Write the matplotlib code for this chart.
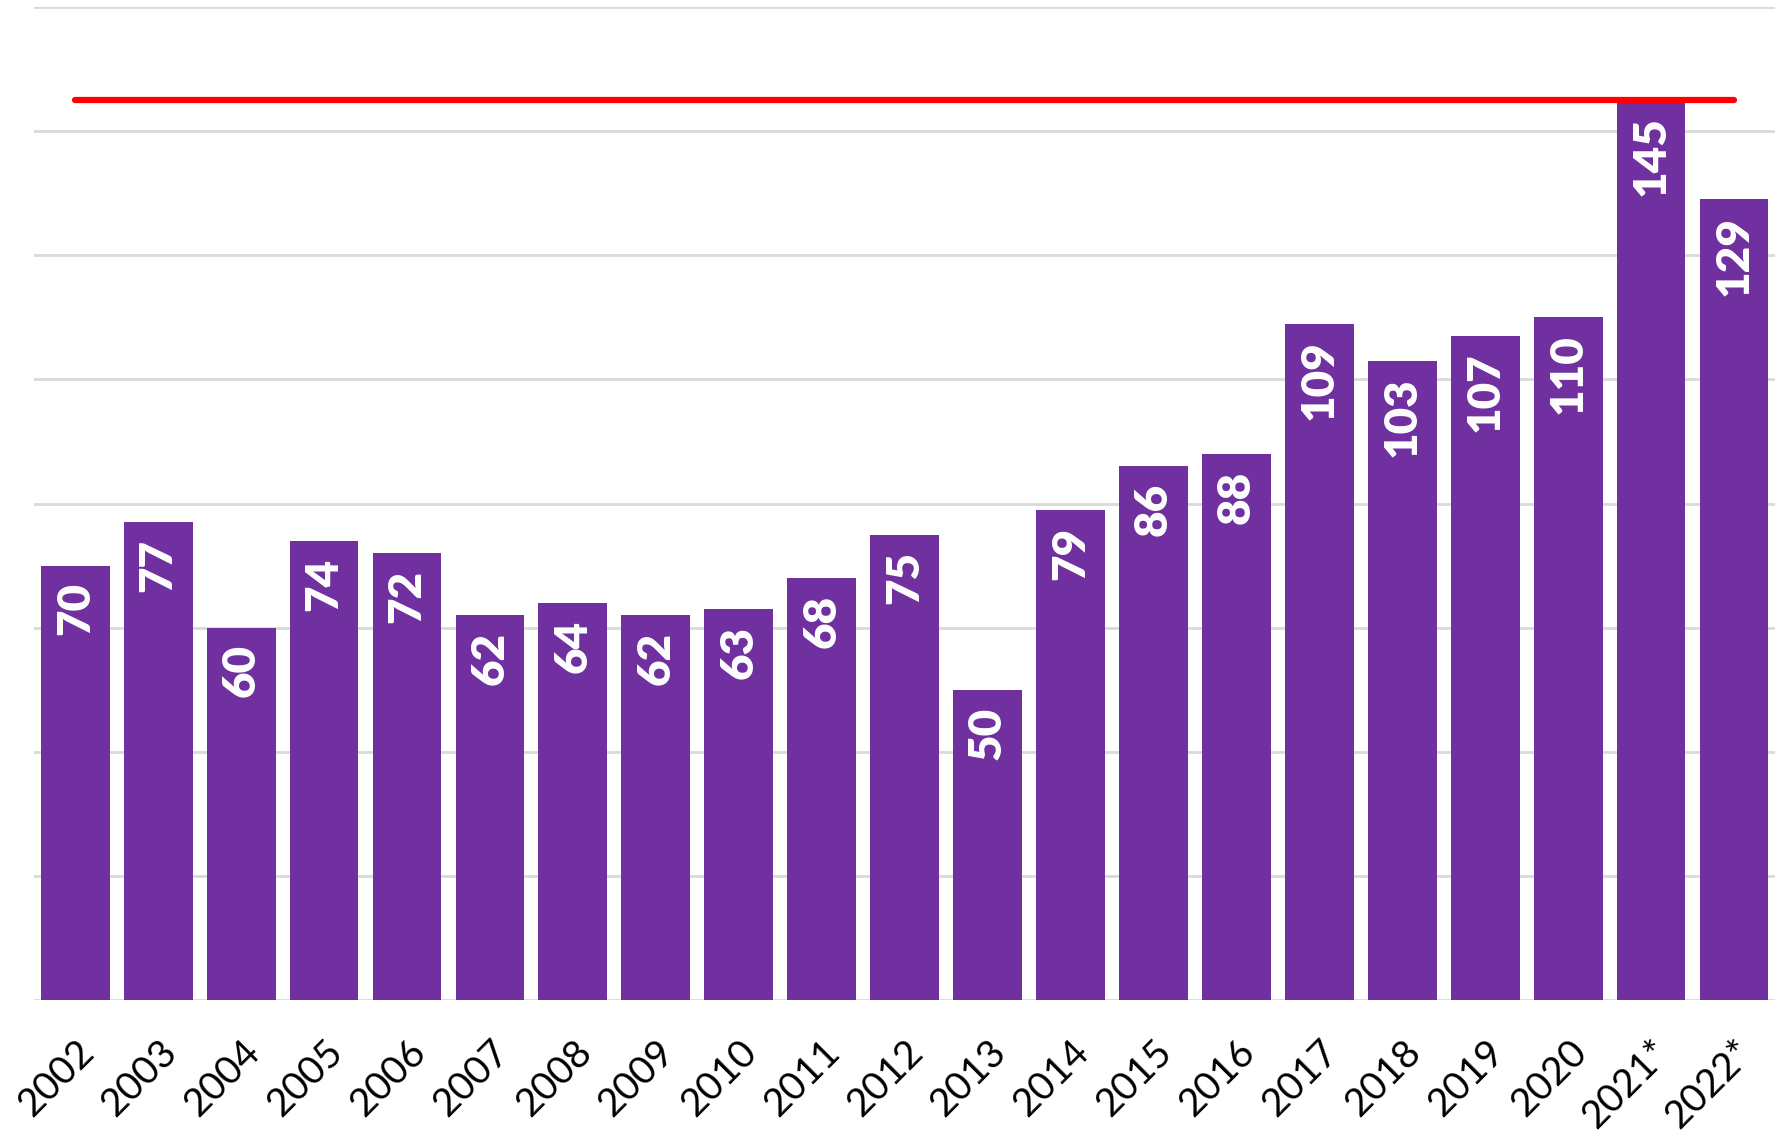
import numpy as np
import matplotlib.pyplot as plt

years = ['2002', '2003', '2004', '2005', '2006', '2007', '2008', '2009', '2010', '2011',
         '2012', '2013', '2014', '2015', '2016', '2017', '2018', '2019', '2020', '2021*', '2022*']
values = [70, 77, 60, 74, 72, 62, 64, 62, 63, 68, 75, 50, 79, 86, 88, 109, 103, 107, 110, 145, 129]
ref_level = 145

plt.rcParams['font.family'] = ['Lato', 'DejaVu Sans']

fig = plt.figure(figsize=(17.79, 11.33), dpi=100)
ax = fig.add_axes([0.019, 0.117, 0.979, 0.877])

x = np.arange(len(years))
bars = ax.bar(x, values, width=0.83, color='#7030A0', zorder=2)

# value labels inside the bar top
for b, v in zip(bars, values):
    ax.annotate(str(v), (b.get_x() + b.get_width() / 2, v), xytext=(0, -12),
                textcoords='offset points', rotation=90, ha='center', va='top',
                color='white', fontsize=33, fontweight='heavy', zorder=3)

ax.plot([x[0], x[-1]], [ref_level, ref_level], color='#FF0000', lw=4.5,
        solid_capstyle='round', zorder=4)

ax.set_xlim(-0.5, len(years) - 0.5)
ax.set_ylim(0, 160)
ax.set_yticks(np.arange(0, 161, 20))
ax.set_yticklabels([])
ax.tick_params(axis='y', length=0)
ax.grid(axis='y', color='#d9d9d9', lw=2, zorder=0)
for s in ax.spines.values():
    s.set_visible(False)

ax.set_xticks(x)
ax.set_xticklabels(years, rotation=45, ha='right', rotation_mode='anchor', fontsize=28)
ax.tick_params(axis='x', length=0, pad=24)

fig.savefig('out.png', dpi=100)
